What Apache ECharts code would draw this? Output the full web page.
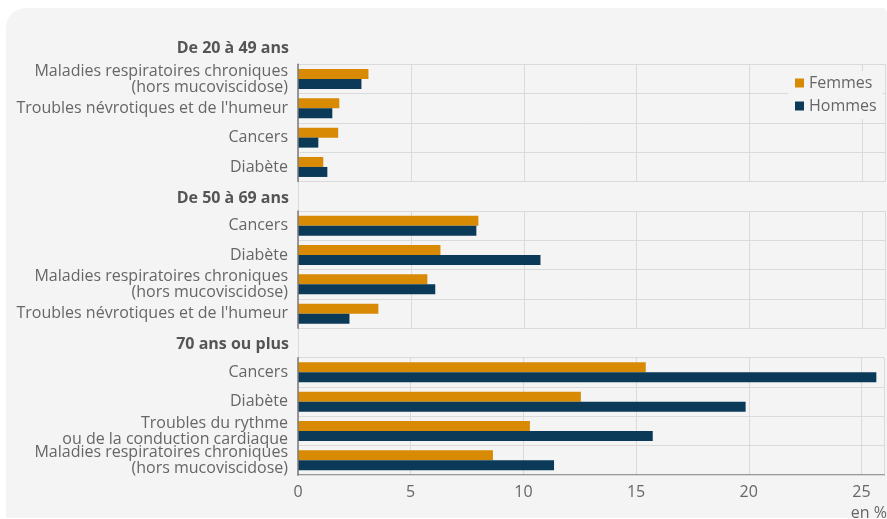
<!DOCTYPE html>
<html>
<head>
<meta charset="utf-8">
<script src="https://cdn.jsdelivr.net/npm/echarts@6/dist/echarts.min.js"></script>
<style>
  html, body { margin: 0; padding: 0; background: #fff; }
  #bg { position: absolute; left: 6px; top: 8px; width: 881px; height: 510px; background: #f4f4f4; border-radius: 20px 5px 0 0; }
  #main { position: absolute; left: 0; top: 0; width: 887px; height: 519px; }
</style>
</head>
<body>
<div id="bg"></div>
<div id="main"></div>
<script>
  // tranches d'age
  const groupTitles = ['De 20 à 49 ans', 'De 50 à 69 ans', '70 ans ou plus']

  const cats1 = ['Maladies respiratoires chroniques\n(hors mucoviscidose)', "Troubles névrotiques et de l'humeur", 'Cancers', 'Diabète']
  const femmes1 = [3.12, 1.83, 1.78, 1.12]
  const hommes1 = [2.81, 1.52, 0.90, 1.30]

  const cats2 = ['Cancers', 'Diabète', 'Maladies respiratoires chroniques\n(hors mucoviscidose)', "Troubles névrotiques et de l'humeur"]
  const femmes2 = [7.99, 6.31, 5.73, 3.56]
  const hommes2 = [7.90, 10.74, 6.08, 2.28]

  const cats3 = ['Cancers', 'Diabète', 'Troubles du rythme\nou de la conduction cardiaque', 'Maladies respiratoires chroniques\n(hors mucoviscidose)']
  const femmes3 = [15.43, 12.55, 10.29, 8.65]
  const hommes3 = [25.66, 19.86, 15.74, 11.36]

  const xTicks = [0, 5, 10, 15, 20, 25]

  const font = 'Open Sans'
  const orange = '#d98a04'
  const navy = '#0a3a58'
  const gridColor = '#dadada'
  const axisColor = '#7a7a7a'

  const rowH = 29.33
  const tops = [64.3, 211, 357.7]
  const headerY = [40, 190, 336]

  const chart = echarts.init(document.getElementById('main'))

  const groups = [
    { cats: cats1, f: femmes1, h: hommes1 },
    { cats: cats2, f: femmes2, h: hommes2 },
    { cats: cats3, f: femmes3, h: hommes3 }
  ]

  const grid = []
  const xAxis = []
  const yAxis = []
  const series = []
  const title = []

  groups.forEach((g, i) => {
    grid.push({ left: 298, width: 587, top: tops[i], height: rowH * 4 })
    const last = i === groups.length - 1
    xAxis.push({
      gridIndex: i,
      type: 'value',
      min: 0,
      max: 26,
      interval: 5,
      axisLine: { show: last, lineStyle: { color: axisColor, width: 1.5 } },
      axisTick: { show: false },
      axisLabel: {
        show: last,
        fontFamily: font,
        fontSize: 16,
        color: '#666',
        margin: 9,
        formatter: v => (xTicks.indexOf(v) >= 0 ? String(v) : '')
      },
      splitLine: { show: true, lineStyle: { color: gridColor, width: 1 } }
    })
    yAxis.push({
      gridIndex: i,
      type: 'category',
      inverse: true,
      data: g.cats,
      axisLine: { show: true, lineStyle: { color: axisColor, width: 1.5 } },
      axisTick: { show: false },
      axisLabel: { interval: 0, fontFamily: font, fontSize: 16, color: '#666', margin: 10, lineHeight: 16 },
      splitLine: { show: true, lineStyle: { color: gridColor, width: 1 } },
      z: 3
    })
    series.push({
      name: 'Femmes', type: 'bar', xAxisIndex: i, yAxisIndex: i,
      data: g.f, barWidth: 10, barGap: '0%', itemStyle: { color: orange }
    })
    series.push({
      name: 'Hommes', type: 'bar', xAxisIndex: i, yAxisIndex: i,
      data: g.h, barWidth: 10, barGap: '0%', itemStyle: { color: navy }
    })
    title.push({
      text: groupTitles[i],
      right: 598,
      top: headerY[i],
      padding: 0,
      textStyle: { fontFamily: font, fontSize: 16, fontWeight: 'bold', color: '#555' }
    })
  })

  // cadre droit continu
  grid.push({ left: 298, width: 587, top: 64.3, height: 475 - 64.3 })
  xAxis.push({ gridIndex: 3, type: 'value', show: false, min: 0, max: 1 })
  yAxis.push({
    gridIndex: 3, type: 'value', position: 'right', min: 0, max: 1,
    axisLine: { show: true, lineStyle: { color: gridColor, width: 1 } },
    axisTick: { show: false }, axisLabel: { show: false }, splitLine: { show: false }
  })

  title.push({
    text: 'en %',
    right: 0,
    top: 505,
    padding: 0,
    textStyle: { fontFamily: font, fontSize: 16, fontWeight: 'normal', color: '#666' }
  })

  chart.setOption({
    animation: false,
    title: title,
    legend: {
      data: ['Femmes', 'Hommes'],
      orient: 'vertical',
      left: 788,
      top: 71,
      padding: [3, 6, 4, 7],
      backgroundColor: '#f4f4f4',
      itemWidth: 9,
      itemHeight: 9,
      itemGap: 5,
      icon: 'rect',
      textStyle: { fontFamily: font, fontSize: 16, color: '#666', lineHeight: 18, padding: [0, 0, 0, 0] },
      z: 10
    },
    grid: grid,
    xAxis: xAxis,
    yAxis: yAxis,
    series: series
  })
</script>
</body>
</html>
